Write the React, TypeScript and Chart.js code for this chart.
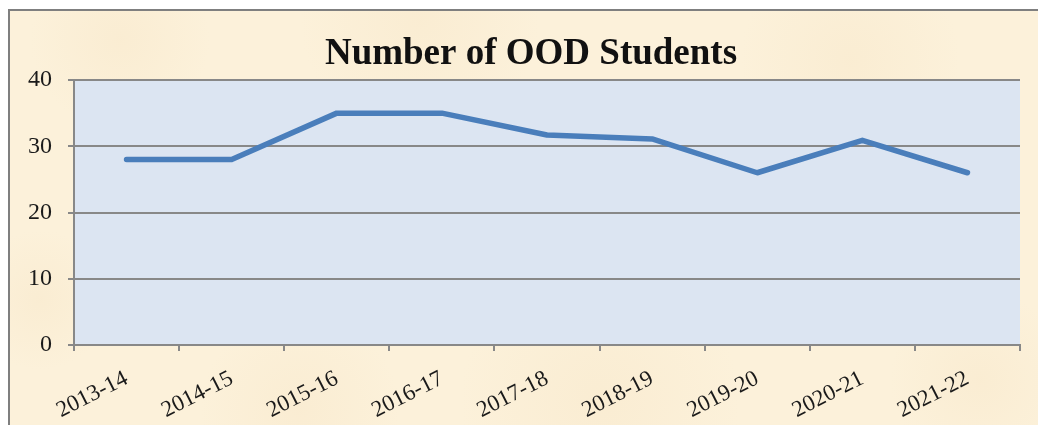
import React, { useEffect, useRef } from "react";
import { Chart, registerables } from "chart.js";

Chart.register(...registerables);

const CHART_TITLE = "Number of OOD Students";
const YEARS = ["2013-14", "2014-15", "2015-16", "2016-17", "2017-18", "2018-19", "2019-20", "2020-21", "2021-22"];
const STUDENTS = [28, 28, 35, 35, 31.7, 31.1, 26, 30.9, 26];
const Y_MIN = 0;
const Y_MAX = 40;
const Y_STEP = 10;

const GRID = "#888888";
const SERIF = '"Liberation Serif", "Times New Roman", serif';

const backgroundPlugin = {
  id: "paperBg",
  beforeDraw(chart: any) {
    const { ctx, width, height, chartArea } = chart;
    ctx.save();
    ctx.fillStyle = "#ffffff";
    ctx.fillRect(0, 0, width, height);
    ctx.fillStyle = "#fcf1da";
    ctx.fillRect(8, 9, width - 8, height - 9);
    // subtle mottling
    const blots = [
      [120, 40, 90], [420, 20, 120], [850, 60, 110], [40, 300, 70], [600, 400, 140], [980, 380, 90], [300, 410, 100],
    ];
    for (const [x, y, r] of blots) {
      const rg = ctx.createRadialGradient(x, y, 0, x, y, r);
      rg.addColorStop(0, "rgba(246,228,196,0.35)");
      rg.addColorStop(1, "rgba(246,228,196,0)");
      ctx.fillStyle = rg;
      ctx.fillRect(8, 9, width - 8, height - 9);
    }
    ctx.strokeStyle = "#7f7f7f";
    ctx.lineWidth = 2;
    ctx.beginPath();
    ctx.moveTo(9, height);
    ctx.lineTo(9, 10);
    ctx.lineTo(width, 10);
    ctx.stroke();
    // plot area
    ctx.fillStyle = "#dce5f2";
    ctx.fillRect(chartArea.left, chartArea.top, chartArea.right - chartArea.left, chartArea.bottom - chartArea.top);
    // title
    ctx.fillStyle = "#111111";
    ctx.font = `bold 37px ${SERIF}`;
    ctx.textAlign = "center";
    ctx.textBaseline = "alphabetic";
    ctx.fillText(CHART_TITLE, 531, 64);
    ctx.restore();
  },
};

export default function App() {
  const ref = useRef<HTMLCanvasElement | null>(null);
  useEffect(() => {
    if (!ref.current) return;
    const chart = new Chart(ref.current, {
      type: "line",
      data: {
        labels: YEARS,
        datasets: [
          {
            label: "OOD Students",
            data: STUDENTS,
            borderColor: "#4a7ebb",
            borderWidth: 5.5,
            pointRadius: 0,
            tension: 0,
            borderCapStyle: "round",
            borderJoinStyle: "round",
          },
        ],
      },
      options: {
        responsive: false,
        animation: false,
        layout: { padding: { left: 0, top: 80, right: 18, bottom: 0 } },
        plugins: { legend: { display: false }, title: { display: false }, tooltip: { enabled: false } },
        scales: {
          x: {
            offset: true,
            grid: { display: true, drawOnChartArea: false, drawTicks: true, tickLength: 6, offset: true, color: GRID, lineWidth: 2 },
            border: { display: true, color: GRID, width: 2 },
            ticks: {
              color: "#1a1a1a",
              font: { family: SERIF, size: 23 },
              minRotation: 27,
              maxRotation: 27,
              padding: 14,
              autoSkip: false,
            },
            afterFit(scale: any) {
              scale.height = 80;
            },
          },
          y: {
            min: Y_MIN,
            max: Y_MAX,
            grid: { color: GRID, lineWidth: 2, drawTicks: true, tickLength: 6 },
            border: { display: true, color: GRID, width: 2 },
            ticks: { stepSize: Y_STEP, color: "#1a1a1a", font: { family: SERIF, size: 24 }, padding: 16 },
            afterFit(scale: any) {
              scale.width = 74;
            },
          },
        },
      },
      plugins: [backgroundPlugin],
    });
    return () => chart.destroy();
  }, []);
  return (
    <div style={{ position: "fixed", left: 0, top: 0, width: 1038, height: 425 }}>
      <canvas ref={ref} width={1038} height={425} />
    </div>
  );
}
